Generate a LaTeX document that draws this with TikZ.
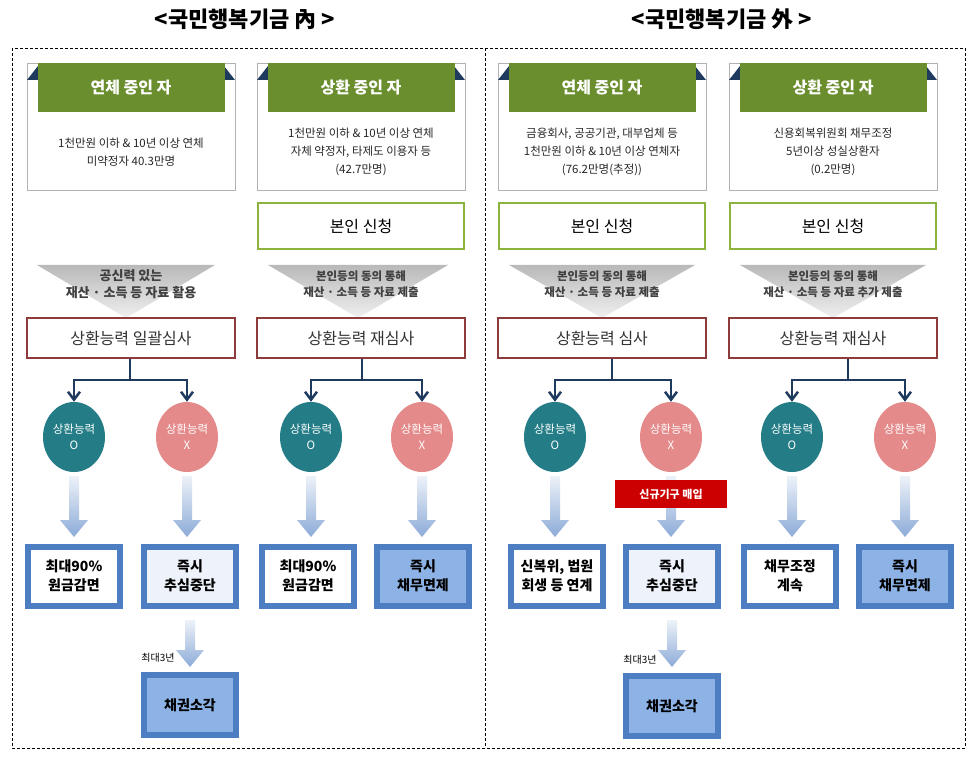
\documentclass[tikz,border=0pt]{standalone}
\usepackage{fontspec}
\setmainfont{Noto Sans CJK KR}
\usetikzlibrary{arrows.meta,shapes.geometric}
\definecolor{hdrgreen}{HTML}{6A8D2E}
\definecolor{navy}{HTML}{1F3A5F}
\definecolor{tealc}{HTML}{237C86}
\definecolor{pinkc}{HTML}{E48A8A}
\definecolor{revred}{HTML}{8E3B3B}
\definecolor{lgreen}{HTML}{8DB33F}
\definecolor{bluebd}{HTML}{4E7EC2}
\definecolor{bluefill}{HTML}{8DB3E6}
\definecolor{bluelight}{HTML}{EEF3FB}
\tikzset{
 ttl/.style={font=\fontsize{22}{22}\selectfont\bfseries},
 descbox/.style={draw=gray!60, fill=white, minimum width=208pt, minimum height=127pt, anchor=north},
 hdr/.style={fill=hdrgreen, minimum width=187pt, minimum height=49pt, anchor=north, text=white, font=\fontsize{16}{16}\selectfont\bfseries},
 desc/.style={align=center, font=\fontsize{11.5}{18}\selectfont, text=black!85},
 apply/.style={draw=lgreen, line width=2.5pt, minimum width=206pt, minimum height=46pt, font=\fontsize{16}{16}\selectfont},
 funtext/.style={align=center, font=\fontsize{11.5}{16}\selectfont\bfseries, text=black!75},
 review/.style={draw=revred, line width=1.5pt, minimum width=208pt, minimum height=40pt, font=\fontsize{16}{16}\selectfont, text=black!80},
 circ/.style={ellipse, inner sep=0pt, minimum width=62pt, minimum height=70pt, align=center, text=white, font=\fontsize{11.5}{16}\selectfont},
 cO/.style={circ, fill=tealc},
 cX/.style={circ, fill=pinkc},
 res/.style={draw=bluebd, line width=6pt, minimum width=92pt, minimum height=59pt, align=center, font=\fontsize{14}{19}\selectfont\bfseries},
 rW/.style={res, fill=white},
 rL/.style={res, fill=bluelight},
 rB/.style={res, fill=bluefill},
 conn/.style={draw=navy, line width=2.5pt},
 conna/.style={conn, -{Straight Barb[length=8pt,width=12pt,line width=2.5pt]}},
}
\newcommand\fadeA[3]{% x, ytop, ybot
 \shade[top color=white!90!bluebd, bottom color=bluebd!65]
 (#1-5,#2) -- (#1+5,#2) -- (#1+5,#3-17) -- (#1+14,#3-17) -- (#1,#3) -- (#1-14,#3-17) -- (#1-5,#3-17) -- cycle;}
\newcommand\funnel[2]{% x0 x1
 \shade[top color=gray!55, bottom color=gray!12]
 (#1,265) -- (#2,265) -- ({(#1+#2)/2},318) -- cycle;}
\newcommand\header[4]{% name, center x, title, description
 \node[descbox] (d#1) at (#2,63) {};
 \fill[navy] (#2-104,80) -- (#2-93,66) -- (#2-93,80) -- cycle;
 \fill[navy] (#2+104,80) -- (#2+93,66) -- (#2+93,80) -- cycle;
 \node[hdr] (h#1) at (#2,63) {#3};
 \node[desc] (t#1) at (#2,152) {#4};}
\begin{document}
\begin{tikzpicture}[x=1pt,y=-1pt]
\useasboundingbox (0,0) rectangle (970,759);
\fill[white] (0,0) rectangle (970,759);
\node[ttl] (T1) at (245,19) {<국민행복기금 內 >};
\node[ttl] (T2) at (722,19) {<국민행복기금 外 >};
\draw[densely dashed, line width=0.6pt] (12,48) rectangle (965,748);
\draw[densely dashed, line width=0.6pt] (485,48) -- (485,748);

\header{1}{131}{연체 중인 자}{1천만원 이하 \& 10년 이상 연체\\미약정자 40.3만명}
\header{2}{361}{상환 중인 자}{1천만원 이하 \& 10년 이상 연체\\자체 약정자, 타제도 이용자 등\\(42.7만명)}
\header{3}{602}{연체 중인 자}{금융회사, 공공기관, 대부업체 등\\1천만원 이하 \& 10년 이상 연체자\\(76.2만명(추정))}
\header{4}{833}{상환 중인 자}{신용회복위원회 채무조정\\5년이상 성실상환자\\(0.2만명)}

\node[apply] (a2) at (361,226) {본인 신청};
\node[apply] (a3) at (602,226) {본인 신청};
\node[apply] (a4) at (833,226) {본인 신청};

\funnel{37}{215}\funnel{268}{448}\funnel{509}{695}\funnel{740}{926}
\node[funtext, font=\fontsize{13}{17}\selectfont\bfseries] (f1) at (131,284) {공신력 있는\\재산 · 소득 등 자료 활용};
\node[funtext] (f2) at (361,284) {본인등의 동의 통해\\재산 · 소득 등 자료 제출};
\node[funtext] (f3) at (602,284) {본인등의 동의 통해\\재산 · 소득 등 자료 제출};
\node[funtext] (f4) at (833,284) {본인등의 동의 통해\\재산 · 소득 등 자료 추가 제출};

\node[review] (r1) at (131,338) {상환능력 일괄심사};
\node[review] (r2) at (361,338) {상환능력 재심사};
\node[review] (r3) at (602,338) {상환능력 심사};
\node[review] (r4) at (833,338) {상환능력 재심사};

\node[cO] (o1) at (74,437) {상환능력\\O};
\node[cX] (x1) at (187,437) {상환능력\\X};
\node[cO] (o2) at (311,437) {상환능력\\O};
\node[cX] (x2) at (422,437) {상환능력\\X};
\node[cO] (o3) at (555,437) {상환능력\\O};
\node[cX] (x3) at (671,437) {상환능력\\X};
\node[cO] (o4) at (792,437) {상환능력\\O};
\node[cX] (x4) at (905,437) {상환능력\\X};

\foreach \i/\s in {1/130,2/362,3/612,4/848}{
 \coordinate (j\i) at (\s,380);
 \draw[conn] (r\i.south -| j\i) -- (j\i);
 \draw[conna] (j\i) -| (o\i.north);
 \draw[conna] (j\i) -| (x\i.north);
}

\fadeA{74}{476}{537}\fadeA{187}{476}{537}\fadeA{311}{476}{537}\fadeA{422}{476}{537}
\fadeA{555}{476}{537}\fadeA{671}{476}{537}\fadeA{792}{476}{537}\fadeA{905}{476}{537}
\node[fill=red!80!black, text=white, minimum width=112pt, minimum height=28pt, font=\fontsize{11}{11}\selectfont\bfseries] (new) at (671,494) {신규기구 매입};

\node[rW] (p1) at (74,576) {최대90\%\\원금감면};
\node[rL] (q1) at (190,576) {즉시\\추심중단};
\node[rW] (p2) at (308,576) {최대90\%\\원금감면};
\node[rB] (q2) at (423,576) {즉시\\채무면제};
\node[rW] (p3) at (557,576) {신복위, 법원\\회생 등 연계};
\node[rL] (q3) at (672,576) {즉시\\추심중단};
\node[rW] (p4) at (790,576) {채무조정\\계속};
\node[rB] (q4) at (905,576) {즉시\\채무면제};

\fadeA{190}{620}{667}\fadeA{672}{620}{667}
\node[font=\fontsize{10}{10}\selectfont] (m1) at (158,658) {최대3년};
\node[font=\fontsize{10}{10}\selectfont] (m3) at (640,660) {최대3년};
\node[rB, minimum height=60pt] (s1) at (190,705) {채권소각};
\node[rB, minimum height=60pt] (s3) at (672,706) {채권소각};
\end{tikzpicture}
\end{document}
